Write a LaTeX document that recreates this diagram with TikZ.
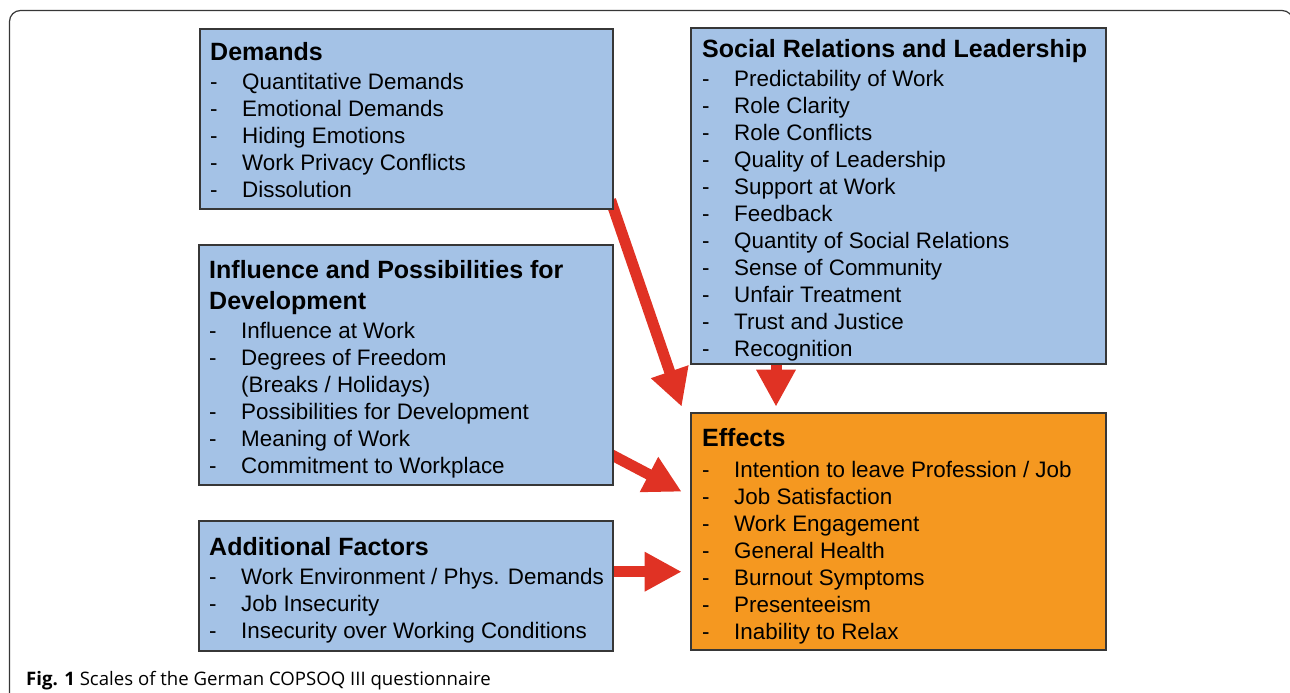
\documentclass[tikz,border=0pt]{standalone}
\usepackage{fontspec}
\setmainfont{Liberation Sans}
\newfontfamily\capfont{Open Sans}
\usetikzlibrary{arrows.meta,calc}
\pgfdeclarelayer{bg}
\pgfsetlayers{bg,main}
\definecolor{boxblue}{RGB}{164,194,230}
\definecolor{boxorange}{RGB}{245,152,32}
\definecolor{arrowred}{RGB}{224,50,36}
\definecolor{edgegray}{RGB}{55,55,55}
\newcommand\dd{\makebox[32pt][l]{-}}
\newcommand\nd{\hspace*{32pt}}
\tikzset{
  panel/.style={draw=edgegray, line width=1.2pt, inner sep=0pt, outer sep=0pt, anchor=north west},
  bluepanel/.style={panel, fill=boxblue},
  orangepanel/.style={panel, fill=boxorange},
  ttl/.style={anchor=base west, inner sep=0pt, font=\bfseries\fontsize{25}{30}\selectfont},
  itm/.style={anchor=base west, inner sep=0pt, font=\fontsize{22.4}{27}\selectfont},
  bigarrow/.style={draw=arrowred, line width=11pt, -{Triangle[length=37pt,width=37pt]}},
  frame/.style={draw=edgegray, line width=1.2pt, rounded corners=11pt},
}
\begin{document}
\begin{tikzpicture}[x=1pt,y=-1pt]
\useasboundingbox (0,0) rectangle (1290,693);
\clip (0,0) rectangle (1290,693);
% outer frame
\coordinate (fa) at (9.5,710);
\coordinate (fb) at (9.5,10.5);
\coordinate (fc) at (1293,10.5);
\coordinate (fd) at (1293,60);
\draw[frame] (fa) -- (fb) -- (fc) -- (fd);

% boxes
\node[bluepanel, minimum width=413pt, minimum height=180pt] (dem) at (200,29) {};
\node[bluepanel, minimum width=415pt, minimum height=336pt] (soc) at (691,28) {};
\node[bluepanel, minimum width=414pt, minimum height=240pt] (inf) at (199,245) {};
\node[bluepanel, minimum width=414pt, minimum height=130pt] (add) at (199,521) {};
\node[orangepanel, minimum width=415pt, minimum height=237pt] (eff) at (691,413) {};

% arrows
\coordinate (a1s) at ($(dem.south east)+(-2.4,-9)$);
\coordinate (a1e) at ($(eff.north west)+(-9.3,-6.3)$);
\coordinate (a2s) at ($(soc.south west)+(85,-4)$);
\coordinate (a2e) at ($(eff.north west)+(85,-6.3)$);
\coordinate (a3s) at ($(inf.south east)+(-8,-33.6)$);
\coordinate (a3e) at ($(eff.north west)+(-9.3,78.7)$);
\coordinate (a4s) at ($(add.south east)+(-5,-79.3)$);
\coordinate (a4e) at ($(eff.north west)+(-9.3,158.7)$);
\begin{pgfonlayer}{bg}
\draw[bigarrow] (a1s) -- (a1e);
\draw[bigarrow] (a2s) -- (a2e);
\draw[bigarrow] (a3s) -- (a3e);
\draw[bigarrow] (a4s) -- (a4e);
\end{pgfonlayer}

% Demands
\node[ttl] (dem-t) at ($(dem.north west)+(10,32)$) {Demands};
\foreach \t [count=\i] in {Quantitative Demands, Emotional Demands, Hiding Emotions, Work Privacy Conflicts, Dissolution}
  \node[itm] (dem-\i) at ($(dem.north west)+(10,60+27*\i-27)$) {\dd\t};

% Social relations
\node[ttl] (soc-t) at ($(soc.north west)+(11,30)$) {Social Relations and Leadership};
\foreach \t [count=\i] in {Predictability of Work, Role Clarity, Role Conflicts, Quality of Leadership, Support at Work, Feedback, Quantity of Social Relations, Sense of Community, Unfair Treatment, Trust and Justice, Recognition}
  \node[itm] (soc-\i) at ($(soc.north west)+(11,58+27*\i-27)$) {\dd\t};

% Influence
\node[ttl] (inf-t1) at ($(inf.north west)+(10,33)$) {Influence and Possibilities for};
\node[ttl] (inf-t2) at ($(inf.north west)+(10,64)$) {Development};
\foreach \t [count=\i] in {\dd Influence at Work, \dd Degrees of Freedom, \nd(Breaks / Holidays), \dd Possibilities for Development, \dd Meaning of Work, \dd Commitment to Workplace}
  \node[itm] (inf-\i) at ($(inf.north west)+(10,93+27*\i-27)$) {\t};

% Additional factors
\node[ttl] (add-t) at ($(add.north west)+(10,34)$) {Additional Factors};
\foreach \t [count=\i] in {Work Environment / Phys. Demands, Job Insecurity, Insecurity over Working Conditions}
  \node[itm] (add-\i) at ($(add.north west)+(10,63+27*\i-27)$) {\dd\t};

% Effects
\node[ttl] (eff-t) at ($(eff.north west)+(11,33)$) {Effects};
\foreach \t [count=\i] in {Intention to leave Profession / Job, Job Satisfaction, Work Engagement, General Health, Burnout Symptoms, Presenteeism, Inability to Relax}
  \node[itm] (eff-\i) at ($(eff.north west)+(11,64+27*\i-27)$) {\dd\t};

% caption
\node[anchor=base west, inner sep=0pt, font=\capfont\fontsize{18.6}{22}\selectfont] (cap) at (26,685) {\textbf{Fig. 1} Scales of the German COPSOQ III questionnaire};
\end{tikzpicture}
\end{document}
